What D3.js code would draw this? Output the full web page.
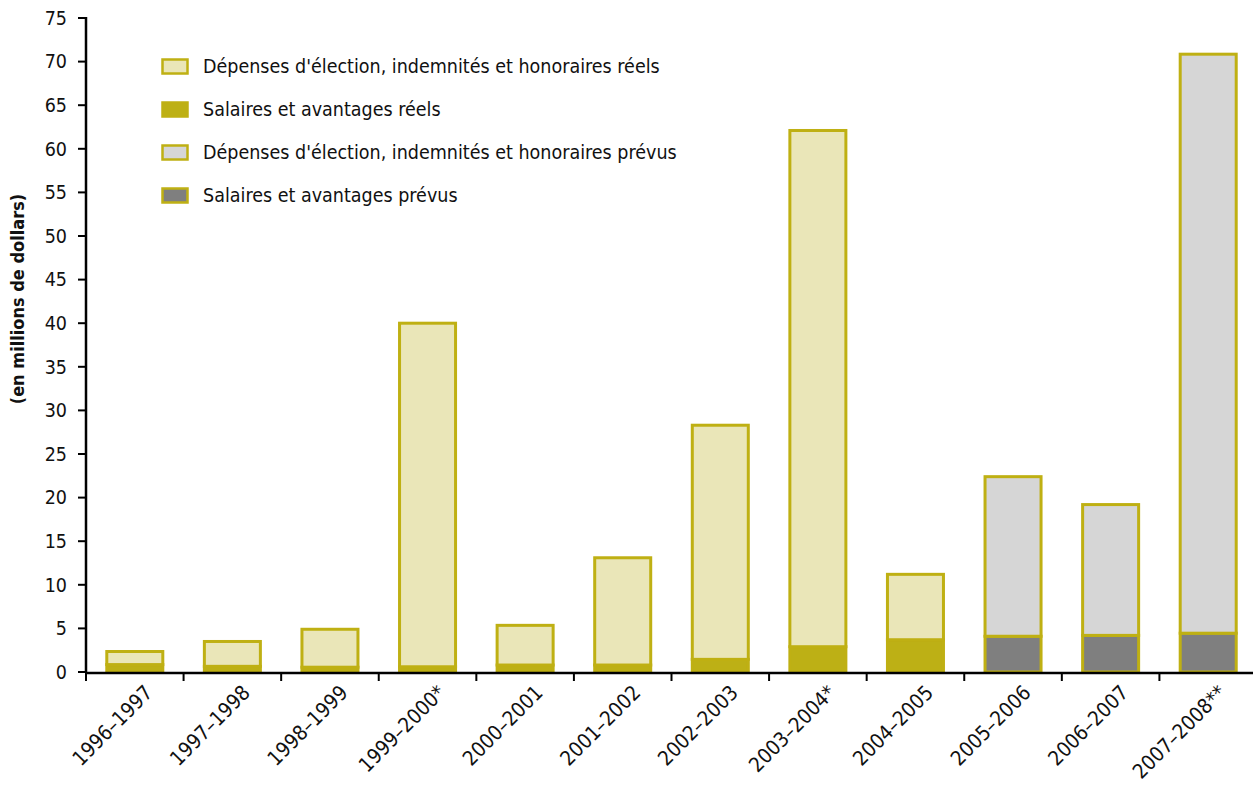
<!DOCTYPE html>
<html>
<head>
<meta charset="utf-8">
<script src="https://cdn.jsdelivr.net/npm/d3@7"></script>
<style>
  html, body { margin: 0; padding: 0; background: #fff; }
  svg { display: block; }
  text { font-family: "Liberation Sans Narrow", "Arial Narrow", "DejaVu Sans Condensed", sans-serif; fill: #111; }
</style>
</head>
<body>
<svg id="chart" width="1253" height="789"></svg>
<script>
// Exercices financiers
const categories = ["1996–1997", "1997–1998", "1998–1999", "1999–2000*", "2000–2001", "2001–2002",
  "2002–2003", "2003–2004*", "2004–2005", "2005–2006", "2006–2007", "2007–2008**"];
// Salaires et avantages (millions $)
const salaires = [0.85, 0.65, 0.55, 0.6, 0.8, 0.8, 1.45, 2.9, 3.7, 4.1, 4.2, 4.45];
// Dépenses d'élection, indemnités et honoraires (millions $)
const depenses = [1.5, 2.85, 4.35, 39.4, 4.55, 12.3, 26.85, 59.2, 7.5, 18.3, 15.0, 66.4];
// true = montants prévus, false = montants réels
const prevus = [false, false, false, false, false, false, false, false, false, true, true, true];
const yTicks = [0, 5, 10, 15, 20, 25, 30, 35, 40, 45, 50, 55, 60, 65, 70, 75];
const legendLabels = [
  "Dépenses d'élection, indemnités et honoraires réels",
  "Salaires et avantages réels",
  "Dépenses d'élection, indemnités et honoraires prévus",
  "Salaires et avantages prévus"
];
const yTitle = "(en millions de dollars)";

const OLIVE = "#bfb013";
const colors = {
  depReel: "#eae6b8",
  salReel: "#bdb015",
  depPrevu: "#d6d6d6",
  salPrevu: "#7f7f7f"
};
const legendFills = [colors.depReel, colors.salReel, colors.depPrevu, colors.salPrevu];

const svg = d3.select("#chart");
const plotLeft = 86, plotRight = 1257, plotTop = 18, plotBottom = 672;

const x = d3.scaleBand().domain(categories).range([plotLeft, plotRight])
  .paddingInner(0.426).paddingOuter(0.213);
const y = d3.scaleLinear().domain([0, 75]).range([plotBottom, plotTop]);

// Segments empilés : salaires en bas, dépenses au-dessus
const segs = [];
categories.forEach((c, i) => {
  const p = prevus[i];
  segs.push({ c, y0: 0, y1: salaires[i], fill: p ? colors.salPrevu : colors.salReel });
  segs.push({ c, y0: salaires[i], y1: salaires[i] + depenses[i], fill: p ? colors.depPrevu : colors.depReel });
});

svg.append("g").selectAll("rect").data(segs).join("rect")
  .attr("x", d => x(d.c))
  .attr("y", d => y(d.y1))
  .attr("width", x.bandwidth())
  .attr("height", d => y(d.y0) - y(d.y1))
  .attr("fill", d => d.fill)
  .attr("stroke", OLIVE)
  .attr("stroke-width", 3);

// Axe Y
const yAxis = svg.append("g");
yAxis.append("line").attr("x1", plotLeft).attr("x2", plotLeft).attr("y1", y(75) - 1).attr("y2", plotBottom + 1)
  .attr("stroke", "#000").attr("stroke-width", 2.5);
yAxis.selectAll("line.t").data(yTicks).join("line").attr("class", "t")
  .attr("x1", plotLeft - 8).attr("x2", plotLeft).attr("y1", d => y(d)).attr("y2", d => y(d))
  .attr("stroke", "#000").attr("stroke-width", 2);
yAxis.selectAll("text").data(yTicks).join("text")
  .attr("x", plotLeft - 19).attr("y", d => y(d)).attr("dy", "0.35em")
  .attr("text-anchor", "end").attr("font-size", 19.5).text(d => d);

svg.append("text")
  .attr("transform", `translate(24, ${(y(75) + plotBottom) / 2 - 46}) rotate(-90)`)
  .attr("text-anchor", "middle").attr("font-size", 18).attr("font-weight", "bold")
  .text(yTitle);

// Axe X
const step = x.step();
const xAxis = svg.append("g");
xAxis.append("line").attr("x1", plotLeft - 1).attr("x2", 1253).attr("y1", plotBottom + 1).attr("y2", plotBottom + 1)
  .attr("stroke", "#000").attr("stroke-width", 2.5);
xAxis.selectAll("line.t").data(categories).join("line").attr("class", "t")
  .attr("x1", d => x(d) - step * x.paddingInner() / 2).attr("x2", d => x(d) - step * x.paddingInner() / 2)
  .attr("y1", plotBottom).attr("y2", plotBottom + 9)
  .attr("stroke", "#000").attr("stroke-width", 2);
xAxis.selectAll("text").data(categories).join("text")
  .attr("transform", d => `translate(${x(d) + x.bandwidth() / 2 + 19}, 694) rotate(-45)`)
  .attr("text-anchor", "end").attr("font-size", 20.5).text(d => d);

// Légende
const leg = svg.append("g");
legendLabels.forEach((lab, i) => {
  const ty = 59 + 43 * i;
  leg.append("rect").attr("x", 162.5).attr("y", ty + 0.5).attr("width", 25).attr("height", 14)
    .attr("fill", legendFills[i]).attr("stroke", OLIVE).attr("stroke-width", 2.5);
  leg.append("text").attr("x", 203).attr("y", ty + 14).attr("font-size", 19.5).text(lab);
});
</script>
</body>
</html>
